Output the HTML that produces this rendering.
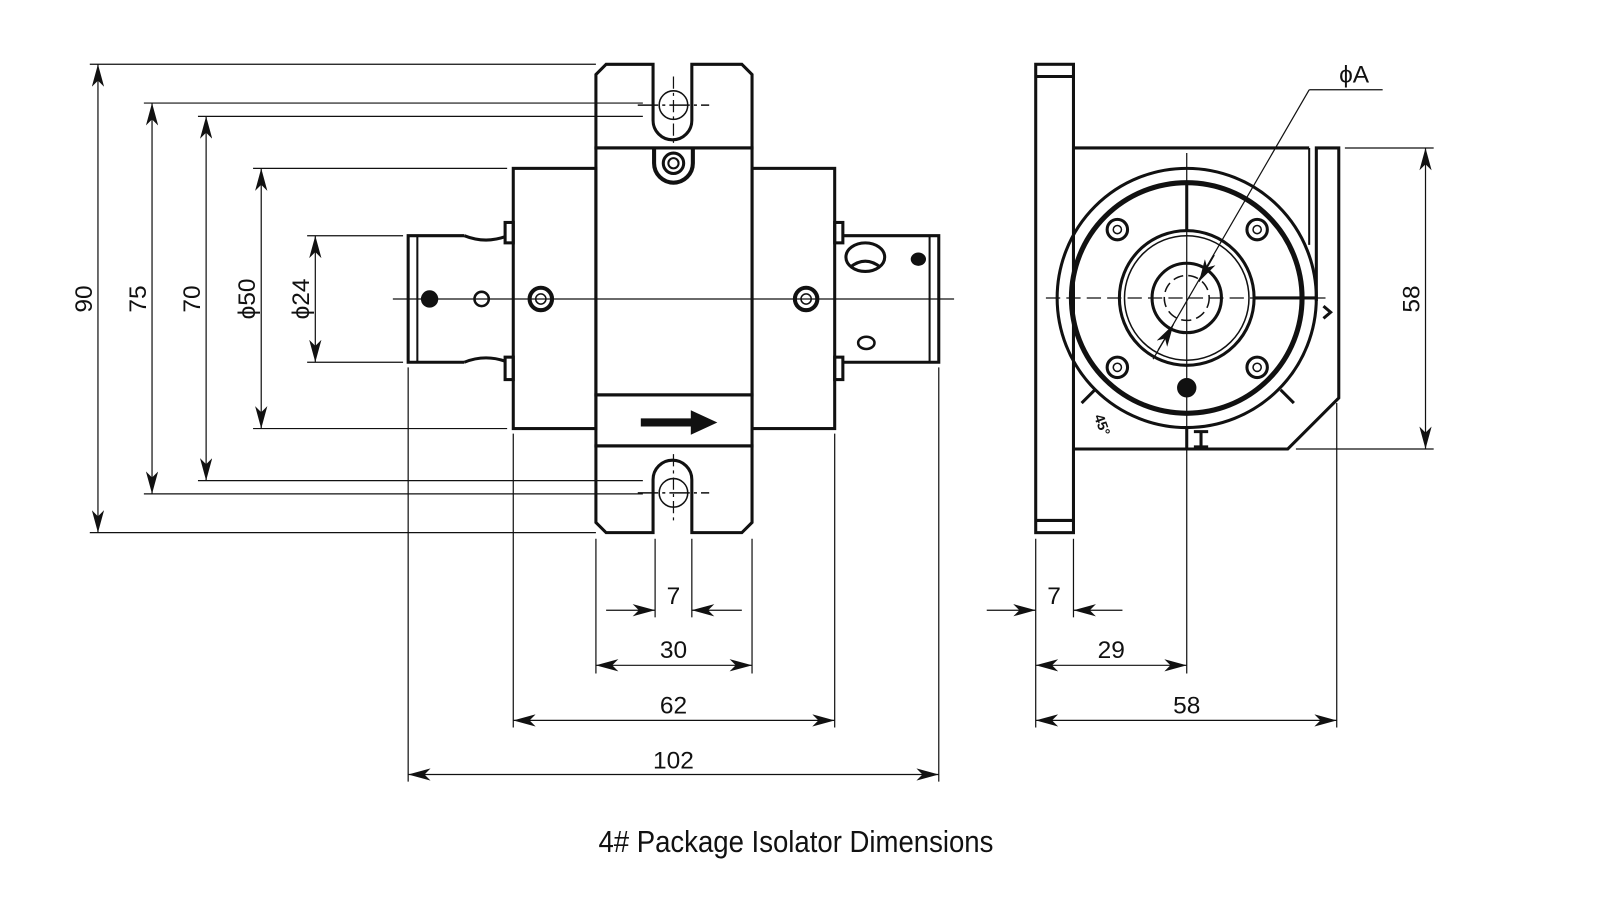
<!DOCTYPE html>
<html><head><meta charset="utf-8"><style>
html,body{margin:0;padding:0;background:#fff;width:1600px;height:900px;overflow:hidden}
svg{display:block}
text{font-family:"Liberation Sans",sans-serif;fill:#111}
</style></head><body>
<svg width="1600" height="900" viewBox="0 0 1568 882" xmlns="http://www.w3.org/2000/svg">
<defs>
<marker id="a" viewBox="0 0 22 12" refX="22" refY="6" markerWidth="22" markerHeight="12" markerUnits="userSpaceOnUse" orient="auto-start-reverse">
<path d="M0,0 L22,6 L0,12 L6,6 Z" fill="#111"/></marker>
</defs>
<g stroke="#111" fill="none">
<g stroke-width="1.2">
<line x1="88" y1="63" x2="584" y2="63"/>
<line x1="88" y1="522" x2="584" y2="522"/>
<line x1="141" y1="101" x2="630" y2="101"/>
<line x1="141" y1="484" x2="630" y2="484"/>
<line x1="194" y1="114" x2="630" y2="114"/>
<line x1="194" y1="471" x2="630" y2="471"/>
<line x1="248" y1="165" x2="497" y2="165"/>
<line x1="248" y1="420" x2="497" y2="420"/>
<line x1="301" y1="231" x2="395" y2="231"/>
<line x1="301" y1="355" x2="395" y2="355"/>
<line x1="96" y1="63" x2="96" y2="522" marker-start="url(#a)" marker-end="url(#a)"/>
<line x1="149" y1="101" x2="149" y2="484" marker-start="url(#a)" marker-end="url(#a)"/>
<line x1="202" y1="114" x2="202" y2="471" marker-start="url(#a)" marker-end="url(#a)"/>
<line x1="256" y1="165" x2="256" y2="420" marker-start="url(#a)" marker-end="url(#a)"/>
<line x1="309" y1="231" x2="309" y2="355" marker-start="url(#a)" marker-end="url(#a)"/>
<line x1="400" y1="360" x2="400" y2="766"/>
<line x1="503" y1="425" x2="503" y2="713"/>
<line x1="584" y1="528" x2="584" y2="660"/>
<line x1="642" y1="528" x2="642" y2="605"/>
<line x1="678" y1="528" x2="678" y2="605"/>
<line x1="737" y1="528" x2="737" y2="660"/>
<line x1="818" y1="425" x2="818" y2="713"/>
<line x1="920" y1="360" x2="920" y2="766"/>
<line x1="594" y1="598" x2="642" y2="598" marker-end="url(#a)"/>
<line x1="727" y1="598" x2="678" y2="598" marker-end="url(#a)"/>
<line x1="584" y1="652" x2="737" y2="652" marker-start="url(#a)" marker-end="url(#a)"/>
<line x1="503" y1="706" x2="818" y2="706" marker-start="url(#a)" marker-end="url(#a)"/>
<line x1="400" y1="759" x2="920" y2="759" marker-start="url(#a)" marker-end="url(#a)"/>
<line x1="385" y1="293" x2="935" y2="293"/>
<line x1="660" y1="75" x2="660" y2="140" stroke-dasharray="12 4 3 4"/>
<line x1="660" y1="445" x2="660" y2="512" stroke-dasharray="12 4 3 4"/>
</g>
<g stroke-width="3">
<path d="M594,63 L640,63 L640,118 A19,19 0 0 0 678,118 L678,63 L727,63 L737,73 L737,145 L584,145 L584,73 Z"/>
<rect x="584" y="145" width="153" height="242"/>
<rect x="584" y="387" width="153" height="50"/>
<path d="M584,437 L737,437 L737,512 L727,522 L678,522 L678,470 A19,19 0 0 0 640,470 L640,522 L594,522 L584,512 Z"/>
<rect x="503" y="165" width="81" height="255"/>
<rect x="737" y="165" width="81" height="255"/>
<rect x="495" y="218" width="8" height="20"/>
<rect x="495" y="350" width="8" height="22"/>
<rect x="818" y="218" width="8" height="20"/>
<rect x="818" y="350" width="8" height="22"/>
<path d="M455,231 L400,231 L400,355 L455,355"/>
<path d="M455,231 Q475,239 495,232 M455,355 Q475,347 495,354"/>
<line x1="409" y1="231" x2="409" y2="355" stroke-width="2"/>
<path d="M826,231 L920,231 L920,355 L826,355"/>
<line x1="911" y1="231" x2="911" y2="355" stroke-width="2"/>
<path d="M641,146 L641,160 A19,19 0 0 0 679,160 L679,146" stroke-width="4"/>
<circle cx="660" cy="160" r="10"/>
<circle cx="660" cy="160" r="5" stroke-width="2"/>
</g>
<g stroke-width="1.5">
<circle cx="660" cy="103" r="14"/>
<circle cx="660" cy="483" r="14"/>
<line x1="625" y1="103" x2="695" y2="103" stroke-dasharray="20 4 3 4"/>
<line x1="625" y1="483" x2="695" y2="483" stroke-dasharray="20 4 3 4"/>
</g>
<circle cx="421" cy="293" r="8" fill="#111"/>
<circle cx="472" cy="293" r="7" stroke-width="2.5"/>
<circle cx="530" cy="293" r="11" stroke-width="4"/>
<circle cx="530" cy="293" r="5" stroke-width="1.5"/>
<circle cx="790" cy="293" r="11" stroke-width="4"/>
<circle cx="790" cy="293" r="5" stroke-width="1.5"/>
<ellipse cx="848" cy="252" rx="19" ry="14" stroke-width="3"/>
<path d="M833,262 Q848,250 863,262" stroke-width="3"/>
<ellipse cx="900" cy="254" rx="7" ry="6" fill="#111"/>
<ellipse cx="849" cy="336" rx="8" ry="6" stroke-width="2.5"/>
<path d="M628,410 L677,410 L677,402 L703,414 L677,426 L677,418 L628,418 Z" fill="#111" stroke="none"/>

<g stroke-width="1.2">
<line x1="1318" y1="145" x2="1405" y2="145"/>
<line x1="1270" y1="440" x2="1405" y2="440"/>
<line x1="1397" y1="145" x2="1397" y2="440" marker-start="url(#a)" marker-end="url(#a)"/>
<line x1="1015" y1="528" x2="1015" y2="713"/>
<line x1="1052" y1="528" x2="1052" y2="605"/>
<line x1="1163" y1="150" x2="1163" y2="660"/>
<line x1="1310" y1="395" x2="1310" y2="713"/>
<line x1="967" y1="598" x2="1015" y2="598" marker-end="url(#a)"/>
<line x1="1100" y1="598" x2="1052" y2="598" marker-end="url(#a)"/>
<line x1="1015" y1="652" x2="1163" y2="652" marker-start="url(#a)" marker-end="url(#a)"/>
<line x1="1015" y1="706" x2="1310" y2="706" marker-start="url(#a)" marker-end="url(#a)"/>
<line x1="1025" y1="292" x2="1300" y2="292" stroke-dasharray="14 6"/>
<path d="M1283,88 L1355,88"/>
<line x1="1283" y1="88" x2="1130" y2="352"/>
<line x1="1190" y1="250" x2="1175" y2="276" marker-end="url(#a)"/>
<line x1="1135" y1="343" x2="1150" y2="318" marker-end="url(#a)"/>
</g>
<g stroke-width="3">
<rect x="1015" y="63" width="37" height="459"/>
<line x1="1015" y1="75" x2="1052" y2="75"/>
<line x1="1015" y1="510" x2="1052" y2="510"/>
<path d="M1052,145 L1283,145 M1052,440 L1262,440 L1312,390 L1312,145 L1290,145 L1290,295"/>
<line x1="1283" y1="145" x2="1283" y2="240" stroke-width="2"/>
<circle cx="1163" cy="292" r="127"/>
<circle cx="1163" cy="292" r="113" stroke-width="5"/>
<circle cx="1163" cy="292" r="66"/>
<circle cx="1163" cy="292" r="61" stroke-width="1.5"/>
<circle cx="1163" cy="292" r="34"/>
<line x1="1163" y1="179" x2="1163" y2="226"/>
<line x1="1229" y1="292" x2="1290" y2="292"/>
<line x1="1163" y1="419" x2="1163" y2="440"/>
</g>
<circle cx="1163" cy="292" r="22" stroke-width="1.5" stroke-dasharray="10 5"/>
<g stroke-width="3">
<circle cx="1095" cy="225" r="10"/><circle cx="1232" cy="225" r="10"/>
<circle cx="1095" cy="360" r="10"/><circle cx="1232" cy="360" r="10"/>
</g>
<g stroke-width="1.5">
<circle cx="1095" cy="225" r="4"/><circle cx="1232" cy="225" r="4"/>
<circle cx="1095" cy="360" r="4"/><circle cx="1232" cy="360" r="4"/>
</g>
<circle cx="1163" cy="380" r="9" fill="#111"/>
<line x1="1073" y1="382" x2="1060" y2="395" stroke-width="3"/>
<line x1="1255" y1="382" x2="1268" y2="395" stroke-width="3"/>
<path d="M1297,300 L1304,306 L1297,312" stroke-width="3"/>
<path d="M1170,423 L1184,423 M1170,438 L1184,438 M1177,423 L1177,438" stroke-width="3"/>
</g>
<text x="1072" y="408" font-size="14" font-weight="bold" transform="rotate(70 1072 408)">45°</text>

<g font-size="24">
<text transform="translate(90,293) rotate(-90)" text-anchor="middle">90</text>
<text transform="translate(143,293) rotate(-90)" text-anchor="middle">75</text>
<text transform="translate(196,293) rotate(-90)" text-anchor="middle">70</text>
<text transform="translate(250,293) rotate(-90)" text-anchor="middle">ϕ50</text>
<text transform="translate(303,293) rotate(-90)" text-anchor="middle">ϕ24</text>
<text transform="translate(1391,293) rotate(-90)" text-anchor="middle">58</text>
<text x="660" y="592" text-anchor="middle">7</text>
<text x="660" y="645" text-anchor="middle">30</text>
<text x="660" y="699" text-anchor="middle">62</text>
<text x="660" y="753" text-anchor="middle">102</text>
<text x="1033" y="592" text-anchor="middle">7</text>
<text x="1089" y="645" text-anchor="middle">29</text>
<text x="1163" y="699" text-anchor="middle">58</text>
<text x="1327" y="81" text-anchor="middle">ϕA</text>
</g>
<text x="780" y="835" font-size="30" text-anchor="middle" transform="translate(780,0) scale(0.9,1) translate(-780,0)">4# Package Isolator Dimensions</text>
</svg>
</body></html>
